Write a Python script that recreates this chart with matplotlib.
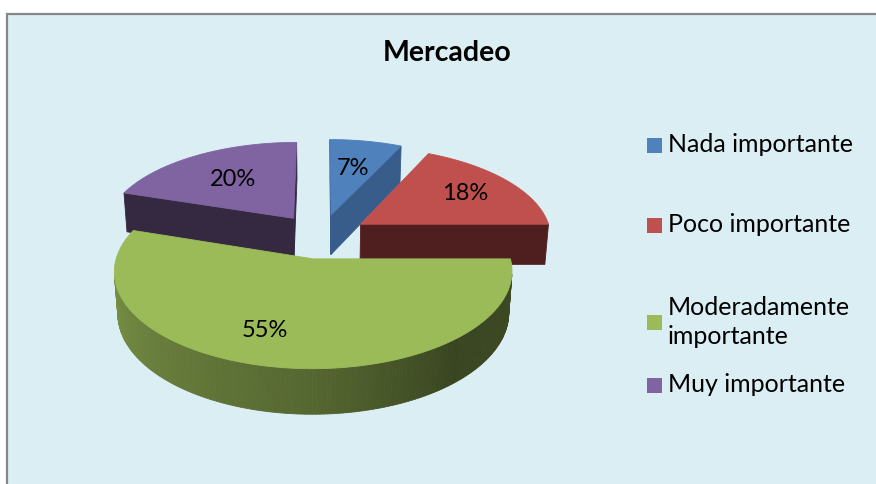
import numpy as np
import matplotlib
matplotlib.use("Agg")
import matplotlib.pyplot as plt
from matplotlib.patches import Polygon, Rectangle

# ---- data ----
title = "Mercadeo"
categories = ["Nada importante", "Poco importante", "Moderadamente\nimportante", "Muy importante"]
values = [7, 18, 55, 20]
top_colors = ["#4F81BD", "#C0504D", "#9BBB59", "#8064A2"]
side_colors = ["#385D8A", "#4F1F1F", "#4A5A2A", "#352841"]

plt.rcParams['font.family'] = ['Lato', 'DejaVu Sans']

W, H = 876, 484
fig = plt.figure(figsize=(W / 100, H / 100), dpi=100)
fig.patch.set_facecolor("white")
ax = fig.add_axes([0, 0, 1, 1])
ax.set_xlim(0, W)
ax.set_ylim(H, 0)
ax.axis("off")

# chart area
ax.add_patch(Rectangle((7, 14), W, H, facecolor="#DBEEF4", edgecolor="#878787", lw=1.6, zorder=0))

# ---- 3D projection ----
cx, cy = 321, 236
S = 191.0
phi = np.radians(28)
D = 7.0
h = 0.245
explode = 0.25
cam = np.array([0.0, -D * np.cos(phi), D * np.sin(phi)])


def proj(X, Y, Z):
    X = np.asarray(X, float); Y = np.asarray(Y, float); Z = np.asarray(Z, float)
    c = -Y * np.cos(phi) + Z * np.sin(phi)
    k = D / (D - c)
    sx = X * k
    sy = (Y * np.sin(phi) + Z * np.cos(phi)) * k
    return cx + S * sx, cy - S * sy


def visible(normal, point):
    return np.dot(normal, cam - point) > 0


def poly(X, Y, Z, fc, z):
    px, py = proj(X, Y, Z)
    ax.add_patch(Polygon(np.column_stack([px, py]), closed=True, facecolor=fc,
                         edgecolor=fc, lw=0.6, zorder=z, antialiased=True))


def wall_shade(theta_deg):
    return np.interp(theta_deg, [90, 140, 180, 230, 270, 300], [0.40, 0.37, 0.55, 0.68, 0.79, 0.82])


total = float(sum(values))
bounds = np.concatenate([[0], np.cumsum(values)]) / total * 360.0
slices = []
for i, v in enumerate(values):
    t0, t1 = bounds[i], bounds[i + 1]
    mid = np.radians((t0 + t1) / 2)
    ox, oy = explode * np.sin(mid), explode * np.cos(mid)
    depth = -oy * np.cos(phi)
    slices.append((depth, i, t0, t1, ox, oy))

slices.sort(key=lambda s: s[0])
label_r = [0.6, 0.7, 0.72, 0.6]
label_dt = [0, 0, 9, 0]
for order, (depth, i, t0, t1, ox, oy) in enumerate(slices):
    base_z = 10 + order * 10
    n = max(int((t1 - t0) / 1.0), 4)
    th = np.radians(np.linspace(t0, t1, n + 1))
    rx, ry = ox + np.sin(th), oy + np.cos(th)
    # radial faces
    for tb, sgn in ((t0, -1), (t1, 1)):
        a = np.radians(tb)
        nrm_a = a + sgn * np.pi / 2
        normal = np.array([np.sin(nrm_a), np.cos(nrm_a), 0.0])
        pm = np.array([ox + 0.5 * np.sin(a), oy + 0.5 * np.cos(a), -h / 2])
        if visible(normal, pm):
            X = [ox, ox + np.sin(a), ox + np.sin(a), ox]
            Y = [oy, oy + np.cos(a), oy + np.cos(a), oy]
            Z = [0, 0, -h, -h]
            poly(X, Y, Z, side_colors[i], base_z)
    # curved wall
    rgb = np.array(matplotlib.colors.to_rgb(top_colors[i]))
    for j in range(n):
        am = (th[j] + th[j + 1]) / 2
        normal = np.array([np.sin(am), np.cos(am), 0.0])
        pm = np.array([ox + np.sin(am), oy + np.cos(am), -h / 2])
        if visible(normal, pm):
            col = np.clip(rgb * wall_shade(np.degrees(am)), 0, 1)
            X = [rx[j], rx[j + 1], rx[j + 1], rx[j]]
            Y = [ry[j], ry[j + 1], ry[j + 1], ry[j]]
            Z = [0, 0, -h, -h]
            poly(X, Y, Z, col, base_z + 1)
    # top face
    X = np.concatenate([[ox], rx])
    Y = np.concatenate([[oy], ry])
    Z = np.zeros_like(X)
    poly(X, Y, Z, top_colors[i], base_z + 2)
    # label
    mid = np.radians((t0 + t1) / 2 + label_dt[i])
    lr = label_r[i]
    lx, ly = proj(ox + lr * np.sin(mid), oy + lr * np.cos(mid), 0.0)
    ax.text(lx, ly, f"{values[i] / total * 100:.0f}%", ha="center", va="center",
            fontsize=17, color="black", zorder=100)

# title
ax.text(447, 53, title, ha="center", va="center", fontsize=20.5, fontweight="bold", zorder=100)

# legend
leg_y = [145, 225, 322, 385]
for cat, col, y in zip(categories, top_colors, leg_y):
    ax.add_patch(Rectangle((647, y - 7.5), 15, 15, facecolor=col, edgecolor="none", zorder=100))
    ax.text(668, y, cat, ha="left", va="center", fontsize=18, linespacing=1.3, zorder=100)

fig.savefig("out.png", dpi=100, facecolor="white")
